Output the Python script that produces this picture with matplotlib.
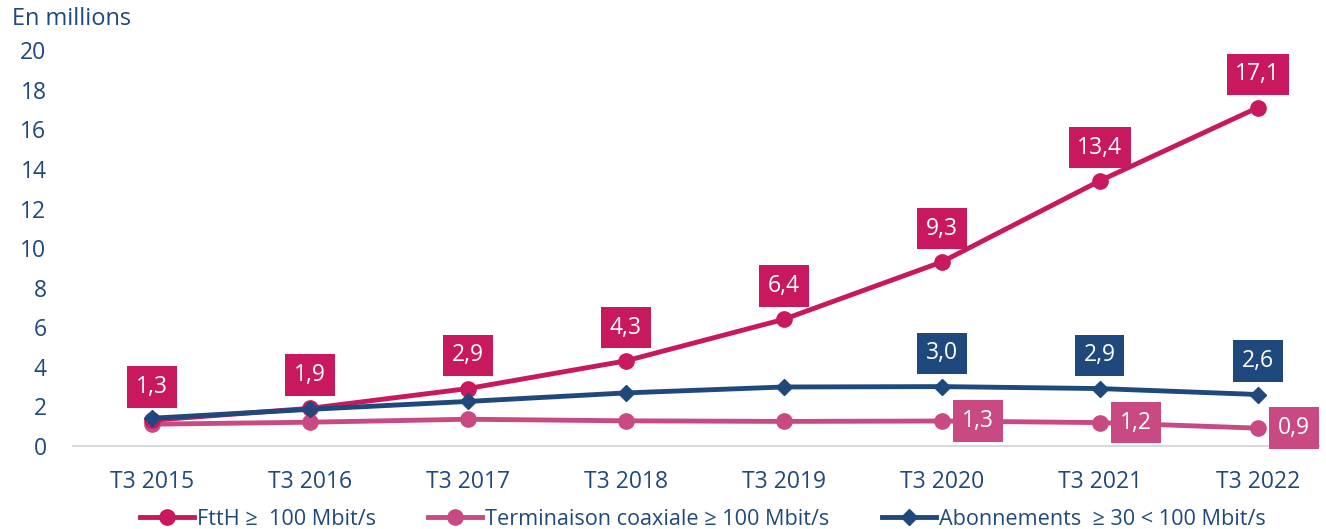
import matplotlib.pyplot as plt
import numpy as np

plt.rcParams['font.family'] = ['Open Sans', 'DejaVu Sans']

# data
periodes = ["T3 2015", "T3 2016", "T3 2017", "T3 2018", "T3 2019", "T3 2020", "T3 2021", "T3 2022"]
ftth = [1.3, 1.9, 2.9, 4.3, 6.4, 9.3, 13.4, 17.1]
coax = [1.1, 1.2, 1.35, 1.27, 1.24, 1.26, 1.18, 0.9]
abo = [1.4, 1.85, 2.25, 2.68, 2.98, 3.0, 2.9, 2.6]
coax_lab = ["", "", "", "", "", "1,3", "1,2", "0,9"]
abo_lab = ["", "", "", "", "", "3,0", "2,9", "2,6"]

c_ftth = "#C8185E"
c_coax = "#C94A82"
c_abo = "#1F497D"
c_txt = "#1F497D"
fs = 16.5

fig = plt.figure(figsize=(13.26, 5.29), dpi=100)
ax = fig.add_axes([0.055, 0.157, 0.94, 0.748])

x = np.arange(len(periodes))
ax.plot(x, coax, color=c_coax, lw=3.5, marker='o', ms=11, label="Terminaison coaxiale ≥ 100 Mbit/s", zorder=3)
ax.plot(x, ftth, color=c_ftth, lw=3.5, marker='o', ms=11, label="FttH ≥  100 Mbit/s", zorder=4)
ax.plot(x, abo, color=c_abo, lw=3.5, marker='D', ms=8.5, label="Abonnements  ≥ 30 < 100 Mbit/s", zorder=5)

box = dict(boxstyle='square,pad=0.38', lw=0)
for i, v in enumerate(ftth):
    ax.annotate(f"{v:.1f}".replace('.', ','), (x[i], v), xytext=(0, 24), textcoords='offset points',
                ha='center', va='center', color='white', fontsize=fs,
                bbox=dict(box, fc=c_ftth), zorder=6)
for i, t in enumerate(abo_lab):
    if t:
        ax.annotate(t, (x[i], abo[i]), xytext=(0, 24), textcoords='offset points',
                    ha='center', va='center', color='white', fontsize=fs,
                    bbox=dict(box, fc=c_abo), zorder=6)
for i, t in enumerate(coax_lab):
    if t:
        ax.annotate(t, (x[i], coax[i]), xytext=(26, 0), textcoords='offset points',
                    ha='center', va='center', color='white', fontsize=fs,
                    bbox=dict(box, fc=c_coax), zorder=6)

ax.set_xlim(-0.5, 7.39)
ax.set_ylim(0, 20)
ax.set_yticks(range(0, 21, 2))
ax.set_xticks(x)
ax.set_xticklabels(periodes)
for s in ['top', 'right', 'left']:
    ax.spines[s].set_visible(False)
ax.spines['bottom'].set_color('#D9D9D9')
ax.spines['bottom'].set_linewidth(1.5)
ax.tick_params(axis='both', length=0, labelsize=fs, colors=c_txt)
ax.tick_params(axis='x', pad=17)
ax.tick_params(axis='y', pad=19)
for lab in ax.get_yticklabels():
    lab.set_ha('right')

fig.text(0.009, 0.965, "En millions", fontsize=17, color=c_txt, va='center')

h, l = ax.get_legend_handles_labels()
order = [1, 0, 2]
fig.legend([h[k] for k in order], [l[k] for k in order], loc='center', bbox_to_anchor=(0.53, 0.018),
           ncol=3, frameon=False, fontsize=15.6, labelcolor=c_txt, handlelength=2.5,
           handletextpad=0.15, columnspacing=2.4)

fig.savefig("out.png", dpi=100)
